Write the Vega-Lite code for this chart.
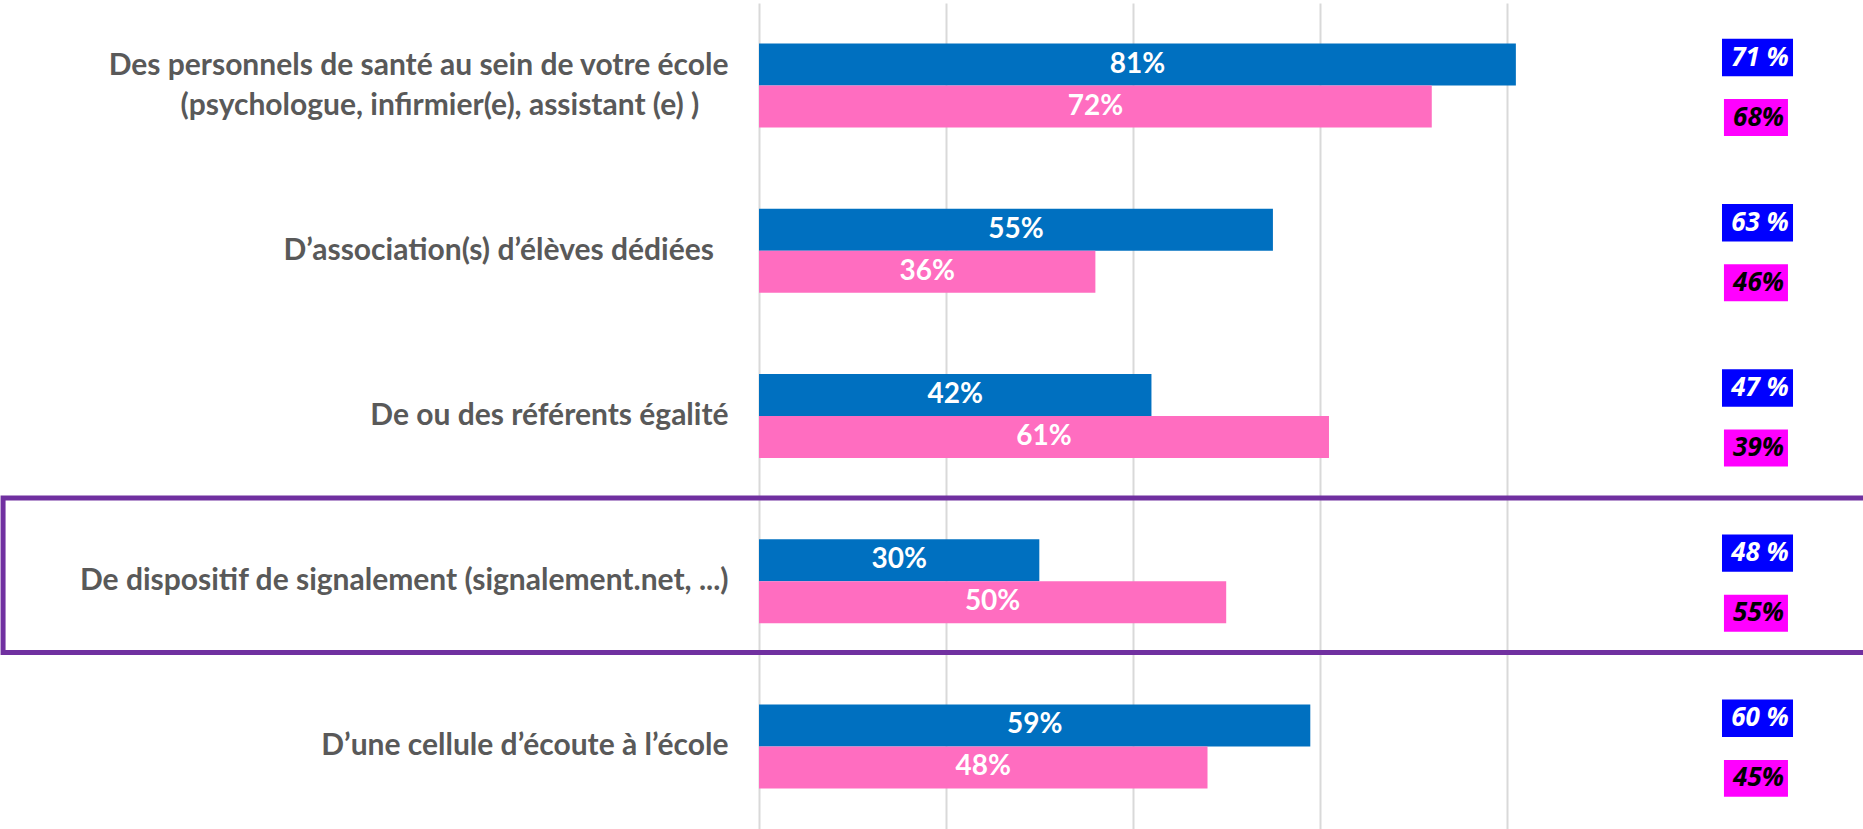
{
  "$schema": "https://vega.github.io/schema/vega-lite/v6.json",
  "width": 1104,
  "height": 826,
  "autosize": {"type": "none"},
  "padding": {"left": 759, "top": 3, "right": 0, "bottom": 0},
  "background": "white",
  "config": {"view": {"stroke": null}},
  "data": {
    "values": [
      {"cat": "Des personnels de santé au sein de votre école|(psychologue, infirmier(e), assistant (e) )\u00a0\u00a0\u00a0\u00a0\u200b", "serie": "Série 1", "value": 0.81, "prev": 0.71},
      {"cat": "Des personnels de santé au sein de votre école|(psychologue, infirmier(e), assistant (e) )\u00a0\u00a0\u00a0\u00a0\u200b", "serie": "Série 2", "value": 0.72, "prev": 0.68},
      {"cat": "D’association(s) d’élèves dédiées\u00a0\u00a0\u200b", "serie": "Série 1", "value": 0.55, "prev": 0.63},
      {"cat": "D’association(s) d’élèves dédiées\u00a0\u00a0\u200b", "serie": "Série 2", "value": 0.36, "prev": 0.46},
      {"cat": "De ou des référents égalité", "serie": "Série 1", "value": 0.42, "prev": 0.47},
      {"cat": "De ou des référents égalité", "serie": "Série 2", "value": 0.61, "prev": 0.39},
      {"cat": "De dispositif de signalement (signalement.net, ...)", "serie": "Série 1", "value": 0.30, "prev": 0.48},
      {"cat": "De dispositif de signalement (signalement.net, ...)", "serie": "Série 2", "value": 0.50, "prev": 0.55},
      {"cat": "D’une cellule d’écoute à l’école", "serie": "Série 1", "value": 0.59, "prev": 0.60},
      {"cat": "D’une cellule d’écoute à l’école", "serie": "Série 2", "value": 0.48, "prev": 0.45}
    ]
  },
  "layer": [
    {
      "mark": {"type": "bar"},
      "encoding": {
        "y": {
          "field": "cat", "type": "nominal",
          "scale": {
            "domain": [
              "Des personnels de santé au sein de votre école|(psychologue, infirmier(e), assistant (e) )\u00a0\u00a0\u00a0\u00a0\u200b",
              "D’association(s) d’élèves dédiées\u00a0\u00a0\u200b",
              "De ou des référents égalité",
              "De dispositif de signalement (signalement.net, ...)",
              "D’une cellule d’écoute à l’école"
            ],
            "paddingInner": 0.3705, "paddingOuter": 0.18525
          },
          "axis": {
            "title": null, "domain": false, "ticks": false, "grid": false,
            "labelExpr": "split(datum.label, '|')",
            "labelFont": "Lato", "labelFontWeight": "bold", "labelFontSize": 30,
            "labelColor": "#595959", "labelPadding": 31, "labelLimit": 900,
            "labelLineHeight": 40,
            "labelOffset": {"condition": {"test": "indexof(datum.value, '|') >= 0", "value": -20}, "value": 0}
          }
        },
        "yOffset": {
          "field": "serie", "type": "nominal",
          "scale": {"domain": ["Série 1", "Série 2"], "paddingInner": 0, "paddingOuter": 0.238}
        },
        "x": {
          "field": "value", "type": "quantitative", "stack": null,
          "scale": {"domain": [0, 1.1815], "nice": false, "zero": true},
          "axis": {
            "values": [0, 0.2, 0.4, 0.6, 0.8], "labels": false, "ticks": false,
            "domain": false, "title": null, "grid": true,
            "gridColor": "#D9D9D9", "gridWidth": 2
          }
        },
        "color": {
          "field": "serie", "type": "nominal",
          "scale": {"domain": ["Série 1", "Série 2"], "range": ["#0070C0", "#FF6DC0"]},
          "legend": null
        }
      }
    },
    {
      "transform": [{"calculate": "datum.value / 2", "as": "mid"}],
      "mark": {"type": "text", "font": "Lato", "fontWeight": "bold", "fontSize": 28, "fill": "white", "baseline": "middle", "align": "center"},
      "encoding": {
        "y": {"field": "cat", "type": "nominal"},
        "yOffset": {"field": "serie", "type": "nominal"},
        "x": {"field": "mid", "type": "quantitative"},
        "text": {"field": "value", "type": "quantitative", "format": ".0%"}
      }
    },
    {
      "transform": [{"filter": "datum.serie === 'Série 1'"}],
      "mark": {"type": "rect", "fill": "#0000FF"},
      "encoding": {
        "y": {"field": "cat", "type": "nominal", "bandPosition": 0.05},
        "y2": {"field": "cat", "bandPosition": 0.41},
        "x": {"datum": 1.0306},
        "x2": {"datum": 1.1066}
      }
    },
    {
      "transform": [{"filter": "datum.serie === 'Série 2'"}],
      "mark": {"type": "rect", "fill": "#FF00FF"},
      "encoding": {
        "y": {"field": "cat", "type": "nominal", "bandPosition": 0.63},
        "y2": {"field": "cat", "bandPosition": 0.985},
        "x": {"datum": 1.0327},
        "x2": {"datum": 1.1012}
      }
    },
    {
      "transform": [{"filter": "datum.serie === 'Série 1'"}],
      "mark": {"type": "text", "font": "Open Sans", "fontWeight": "bold", "fontStyle": "italic", "fontSize": 26, "fill": "white", "baseline": "middle", "align": "center",
        "text": {"expr": "format(datum.prev * 100, '.0f') + ' %'"}},
      "encoding": {
        "y": {"field": "cat", "type": "nominal", "bandPosition": 0.23},
        "x": {"datum": 1.0713}
      }
    },
    {
      "transform": [{"filter": "datum.serie === 'Série 2'"}],
      "mark": {"type": "text", "font": "Open Sans", "fontWeight": "bold", "fontStyle": "italic", "fontSize": 26, "fill": "black", "baseline": "middle", "align": "center"},
      "encoding": {
        "y": {"field": "cat", "type": "nominal", "bandPosition": 0.807},
        "x": {"datum": 1.0697},
        "text": {"field": "prev", "type": "quantitative", "format": ".0%"}
      }
    },
    {
      "transform": [{"filter": "datum.cat === 'De dispositif de signalement (signalement.net, ...)' && datum.serie === 'Série 1'"}],
      "mark": {"type": "rect", "fill": "transparent", "stroke": "#7030A0", "strokeWidth": 5},
      "encoding": {
        "y": {"field": "cat", "type": "nominal", "bandPosition": -0.30},
        "y2": {"field": "cat", "bandPosition": 1.186},
        "x": {"datum": -0.809},
        "x2": {"datum": 1.25}
      }
    }
  ]
}
